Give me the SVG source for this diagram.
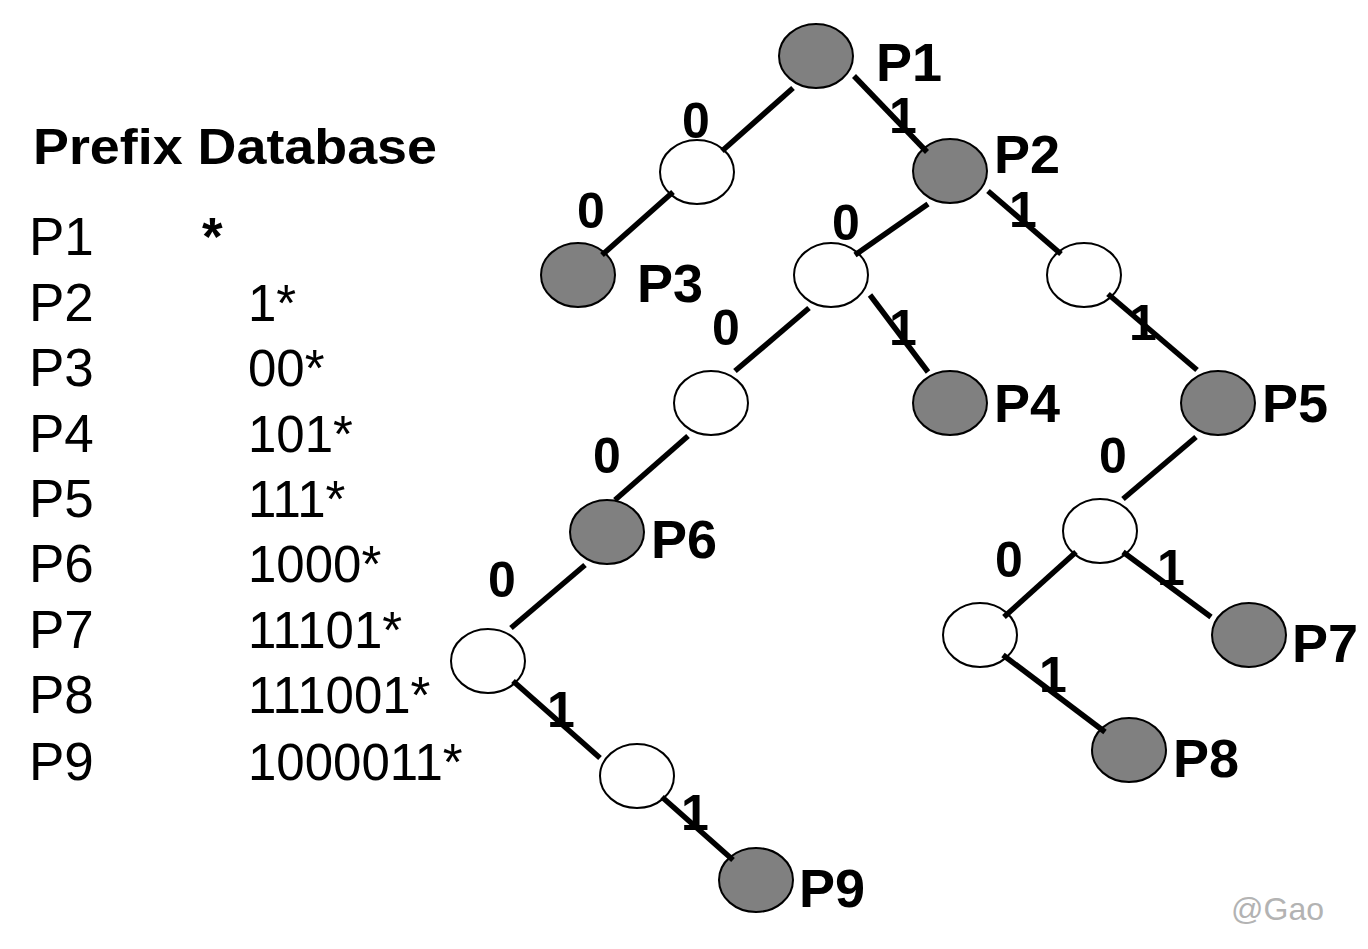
<svg xmlns="http://www.w3.org/2000/svg" width="1368" height="949" viewBox="0 0 1368 949">
<style>
.full{fill:#808080;stroke:#000;stroke-width:2}
.empty{fill:#fff;stroke:#000;stroke-width:2}
.edge{stroke:#000;stroke-width:5.5;fill:none}
.lbl{font-family:"Liberation Sans",Arial,sans-serif;font-weight:bold;font-size:54px;fill:#000}
.bit{font-family:"Liberation Sans",Arial,sans-serif;font-weight:bold;font-size:50px;fill:#000;text-anchor:middle}
.tbl{font-family:"Liberation Sans",Arial,sans-serif;font-size:53px;fill:#000}
.val{font-family:"Liberation Sans",Arial,sans-serif;font-size:51px;fill:#000}
</style>
<rect width="1368" height="949" fill="#fff"/>
<g id="table">
<text x="33" y="164" class="tbl" style="font-weight:bold;font-size:50px" textLength="404" lengthAdjust="spacingAndGlyphs">Prefix Database</text>
<text x="29" y="255" class="tbl">P1</text><text x="202" y="255" class="tbl" style="font-weight:bold">*</text>
<text x="29" y="321" class="tbl">P2</text><text x="248" y="321" class="val">1*</text>
<text x="29" y="386" class="tbl">P3</text><text x="248" y="386" class="val">00*</text>
<text x="29" y="452" class="tbl">P4</text><text x="248" y="452" class="val">101*</text>
<text x="29" y="517" class="tbl">P5</text><text x="248" y="517" class="val">111*</text>
<text x="29" y="582" class="tbl">P6</text><text x="248" y="582" class="val">1000*</text>
<text x="29" y="648" class="tbl">P7</text><text x="248" y="648" class="val">11101*</text>
<text x="29" y="713" class="tbl">P8</text><text x="248" y="713" class="val">111001*</text>
<text x="29" y="780" class="tbl">P9</text><text x="248" y="780" class="val">1000011*</text>
</g>
<g id="n-P1"><ellipse cx="816" cy="56" rx="37" ry="32" class="full"/><text x="876" y="81" class="lbl">P1</text></g>
<g id="n-0"><ellipse cx="697" cy="172" rx="37" ry="32" class="empty"/></g>
<g id="n-P3"><ellipse cx="578" cy="275" rx="37" ry="32" class="full"/><text x="637" y="302" class="lbl">P3</text></g>
<g id="n-P2"><ellipse cx="950" cy="171" rx="37" ry="32" class="full"/><text x="994" y="173" class="lbl">P2</text></g>
<g id="n-10"><ellipse cx="831" cy="275" rx="37" ry="32" class="empty"/></g>
<g id="n-11"><ellipse cx="1084" cy="275" rx="37" ry="32" class="empty"/></g>
<g id="n-100"><ellipse cx="711" cy="403" rx="37" ry="32" class="empty"/></g>
<g id="n-P4"><ellipse cx="950" cy="403" rx="37" ry="32" class="full"/><text x="994" y="422" class="lbl">P4</text></g>
<g id="n-P5"><ellipse cx="1218" cy="403" rx="37" ry="32" class="full"/><text x="1262" y="422" class="lbl">P5</text></g>
<g id="n-P6"><ellipse cx="607" cy="532" rx="37" ry="32" class="full"/><text x="651" y="558" class="lbl">P6</text></g>
<g id="n-1110"><ellipse cx="1100" cy="531" rx="37" ry="32" class="empty"/></g>
<g id="n-10000"><ellipse cx="488" cy="661" rx="37" ry="32" class="empty"/></g>
<g id="n-11100"><ellipse cx="980" cy="635" rx="37" ry="32" class="empty"/></g>
<g id="n-P7"><ellipse cx="1249" cy="635" rx="37" ry="32" class="full"/><text x="1292" y="662" class="lbl">P7</text></g>
<g id="n-100001"><ellipse cx="637" cy="776" rx="37" ry="32" class="empty"/></g>
<g id="n-P8"><ellipse cx="1129" cy="750" rx="37" ry="32" class="full"/><text x="1173" y="777" class="lbl">P8</text></g>
<g id="n-P9"><ellipse cx="756" cy="880" rx="37" ry="32" class="full"/><text x="799" y="907" class="lbl">P9</text></g>
<g id="connectors">
<text x="696" y="138" class="bit">0</text>
<text x="591" y="228" class="bit">0</text>
<text x="903" y="133" class="bit">1</text>
<text x="846" y="240" class="bit">0</text>
<text x="1023" y="227" class="bit">1</text>
<text x="726" y="345" class="bit">0</text>
<text x="903" y="345" class="bit">1</text>
<text x="1143" y="340" class="bit">1</text>
<text x="607" y="473" class="bit">0</text>
<text x="1113" y="473" class="bit">0</text>
<text x="502" y="597" class="bit">0</text>
<text x="1009" y="577" class="bit">0</text>
<text x="1171" y="585" class="bit">1</text>
<text x="1053" y="692" class="bit">1</text>
<text x="561" y="727" class="bit">1</text>
<text x="695" y="830" class="bit">1</text>
<line x1="793" y1="88" x2="722" y2="151" class="edge"/>
<line x1="854" y1="76" x2="927" y2="152" class="edge"/>
<line x1="673" y1="192" x2="602" y2="255" class="edge"/>
<line x1="928" y1="204" x2="855" y2="255" class="edge"/>
<line x1="988" y1="191" x2="1061" y2="254" class="edge"/>
<line x1="809" y1="308" x2="735" y2="371" class="edge"/>
<line x1="870" y1="295" x2="928" y2="372" class="edge"/>
<line x1="1108" y1="294" x2="1197" y2="370" class="edge"/>
<line x1="688" y1="436" x2="615" y2="500" class="edge"/>
<line x1="1196" y1="437" x2="1123" y2="499" class="edge"/>
<line x1="585" y1="565" x2="511" y2="628" class="edge"/>
<line x1="1076" y1="552" x2="1004" y2="617" class="edge"/>
<line x1="1123" y1="552" x2="1211" y2="617" class="edge"/>
<line x1="1003" y1="655" x2="1105" y2="732" class="edge"/>
<line x1="513" y1="681" x2="600" y2="758" class="edge"/>
<line x1="662" y1="797" x2="733" y2="860" class="edge"/>
</g>
<text x="1231" y="920" style="font-family:'Liberation Sans',Arial,sans-serif;font-size:32px;fill:#b3b3b3">@Gao</text>
</svg>
